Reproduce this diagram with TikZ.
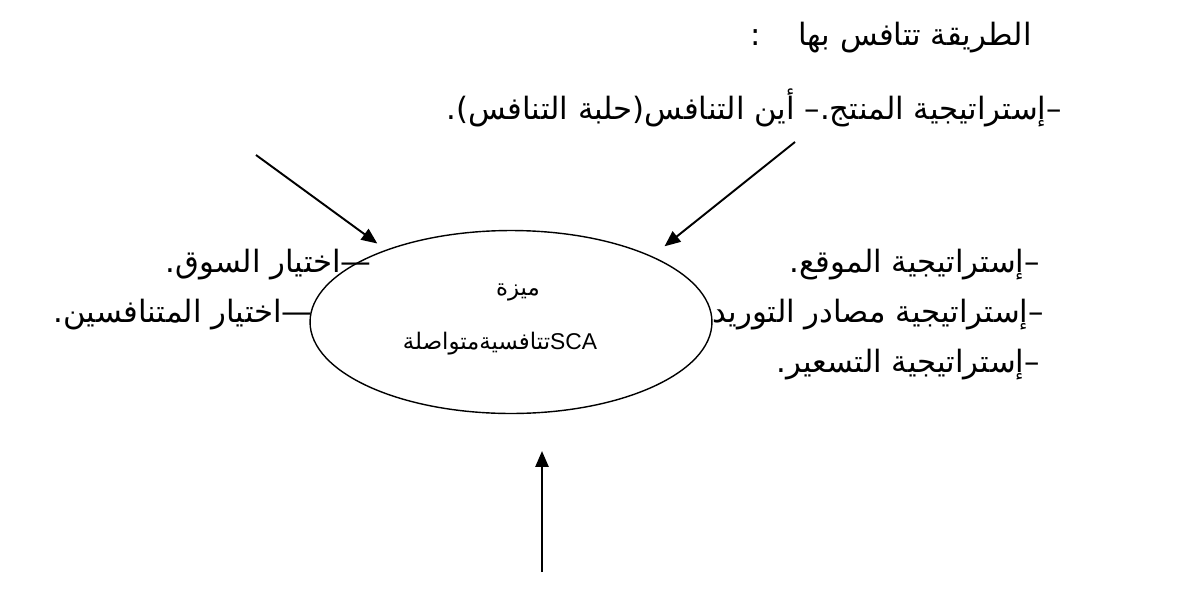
\documentclass[tikz,border=0pt]{standalone}
\usepackage{fontspec}
\setmainfont{Liberation Sans}
\newfontfamily\arfont[Script=Arabic]{DejaVu Sans}
\newfontfamily\latfont{Liberation Sans}
\TeXXeTstate=1
\usetikzlibrary{arrows.meta,shapes.geometric}
\tikzset{
  artext/.style={font=\arfont\fontsize{17.5}{20}\selectfont, inner sep=0pt},
  coretext/.style={font=\arfont\fontsize{13}{15}\selectfont, inner sep=0pt},
  rtlitem/.style={artext, anchor=east},
  core/.style={
    ellipse, draw, line width=0.8pt,
    minimum width=8.04cm, minimum height=3.66cm, inner sep=0pt
  },
  flowarrow/.style={-{Triangle[length=9pt,width=7.5pt]}, line width=1.1pt, draw=black}
}
\begin{document}
\begin{tikzpicture}[x=0.02cm,y=-0.02cm]
\useasboundingbox (0,0) rectangle (1181,589);
% central ellipse and its text
\node[core] (sca) at (511,322) {};
\node[coretext] (adv) at (518,292) {\beginR ميزة\endR};
\node[coretext] (advname) at (500,344) {\beginR\beginL{\latfont SCA}\endL تتافسيةمتواصلة\endR};
% top lines
\node[rtlitem] (how) at (1032,38) {\beginR الطريقة تتافس بها\hspace{1.2em}:\endR};
\node[rtlitem] (where) at (1062,108) {\beginR –إستراتيجية المنتج.– أين التنافس(حلبة التنافس).\endR};
% left items
\node[rtlitem] (market) at (372,265) {\beginR —اختيار السوق.\endR};
\node[rtlitem] (rivals) at (313,315) {\beginR —اختيار المتنافسين.\endR};
% right items
\node[rtlitem] (site) at (1040,265) {\beginR –إستراتيجية الموقع.\endR};
\node[rtlitem] (supply) at (1044,315) {\beginR –إستراتيجية مصادر التوريد\endR};
\node[rtlitem] (price) at (1040,365) {\beginR –إستراتيجية التسعير.\endR};
% arrows
\coordinate (lstart) at (256,155);
\coordinate (rstart) at (795,142);
\coordinate (bstart) at (542,572);
\draw[flowarrow, shorten >=6pt] (lstart) -- (sca.150);
\draw[flowarrow, shorten >=9pt] (rstart) -- (sca.25);
\draw[flowarrow, shorten >=21pt] (bstart) -- (bstart |- sca.south);
\end{tikzpicture}
\end{document}
